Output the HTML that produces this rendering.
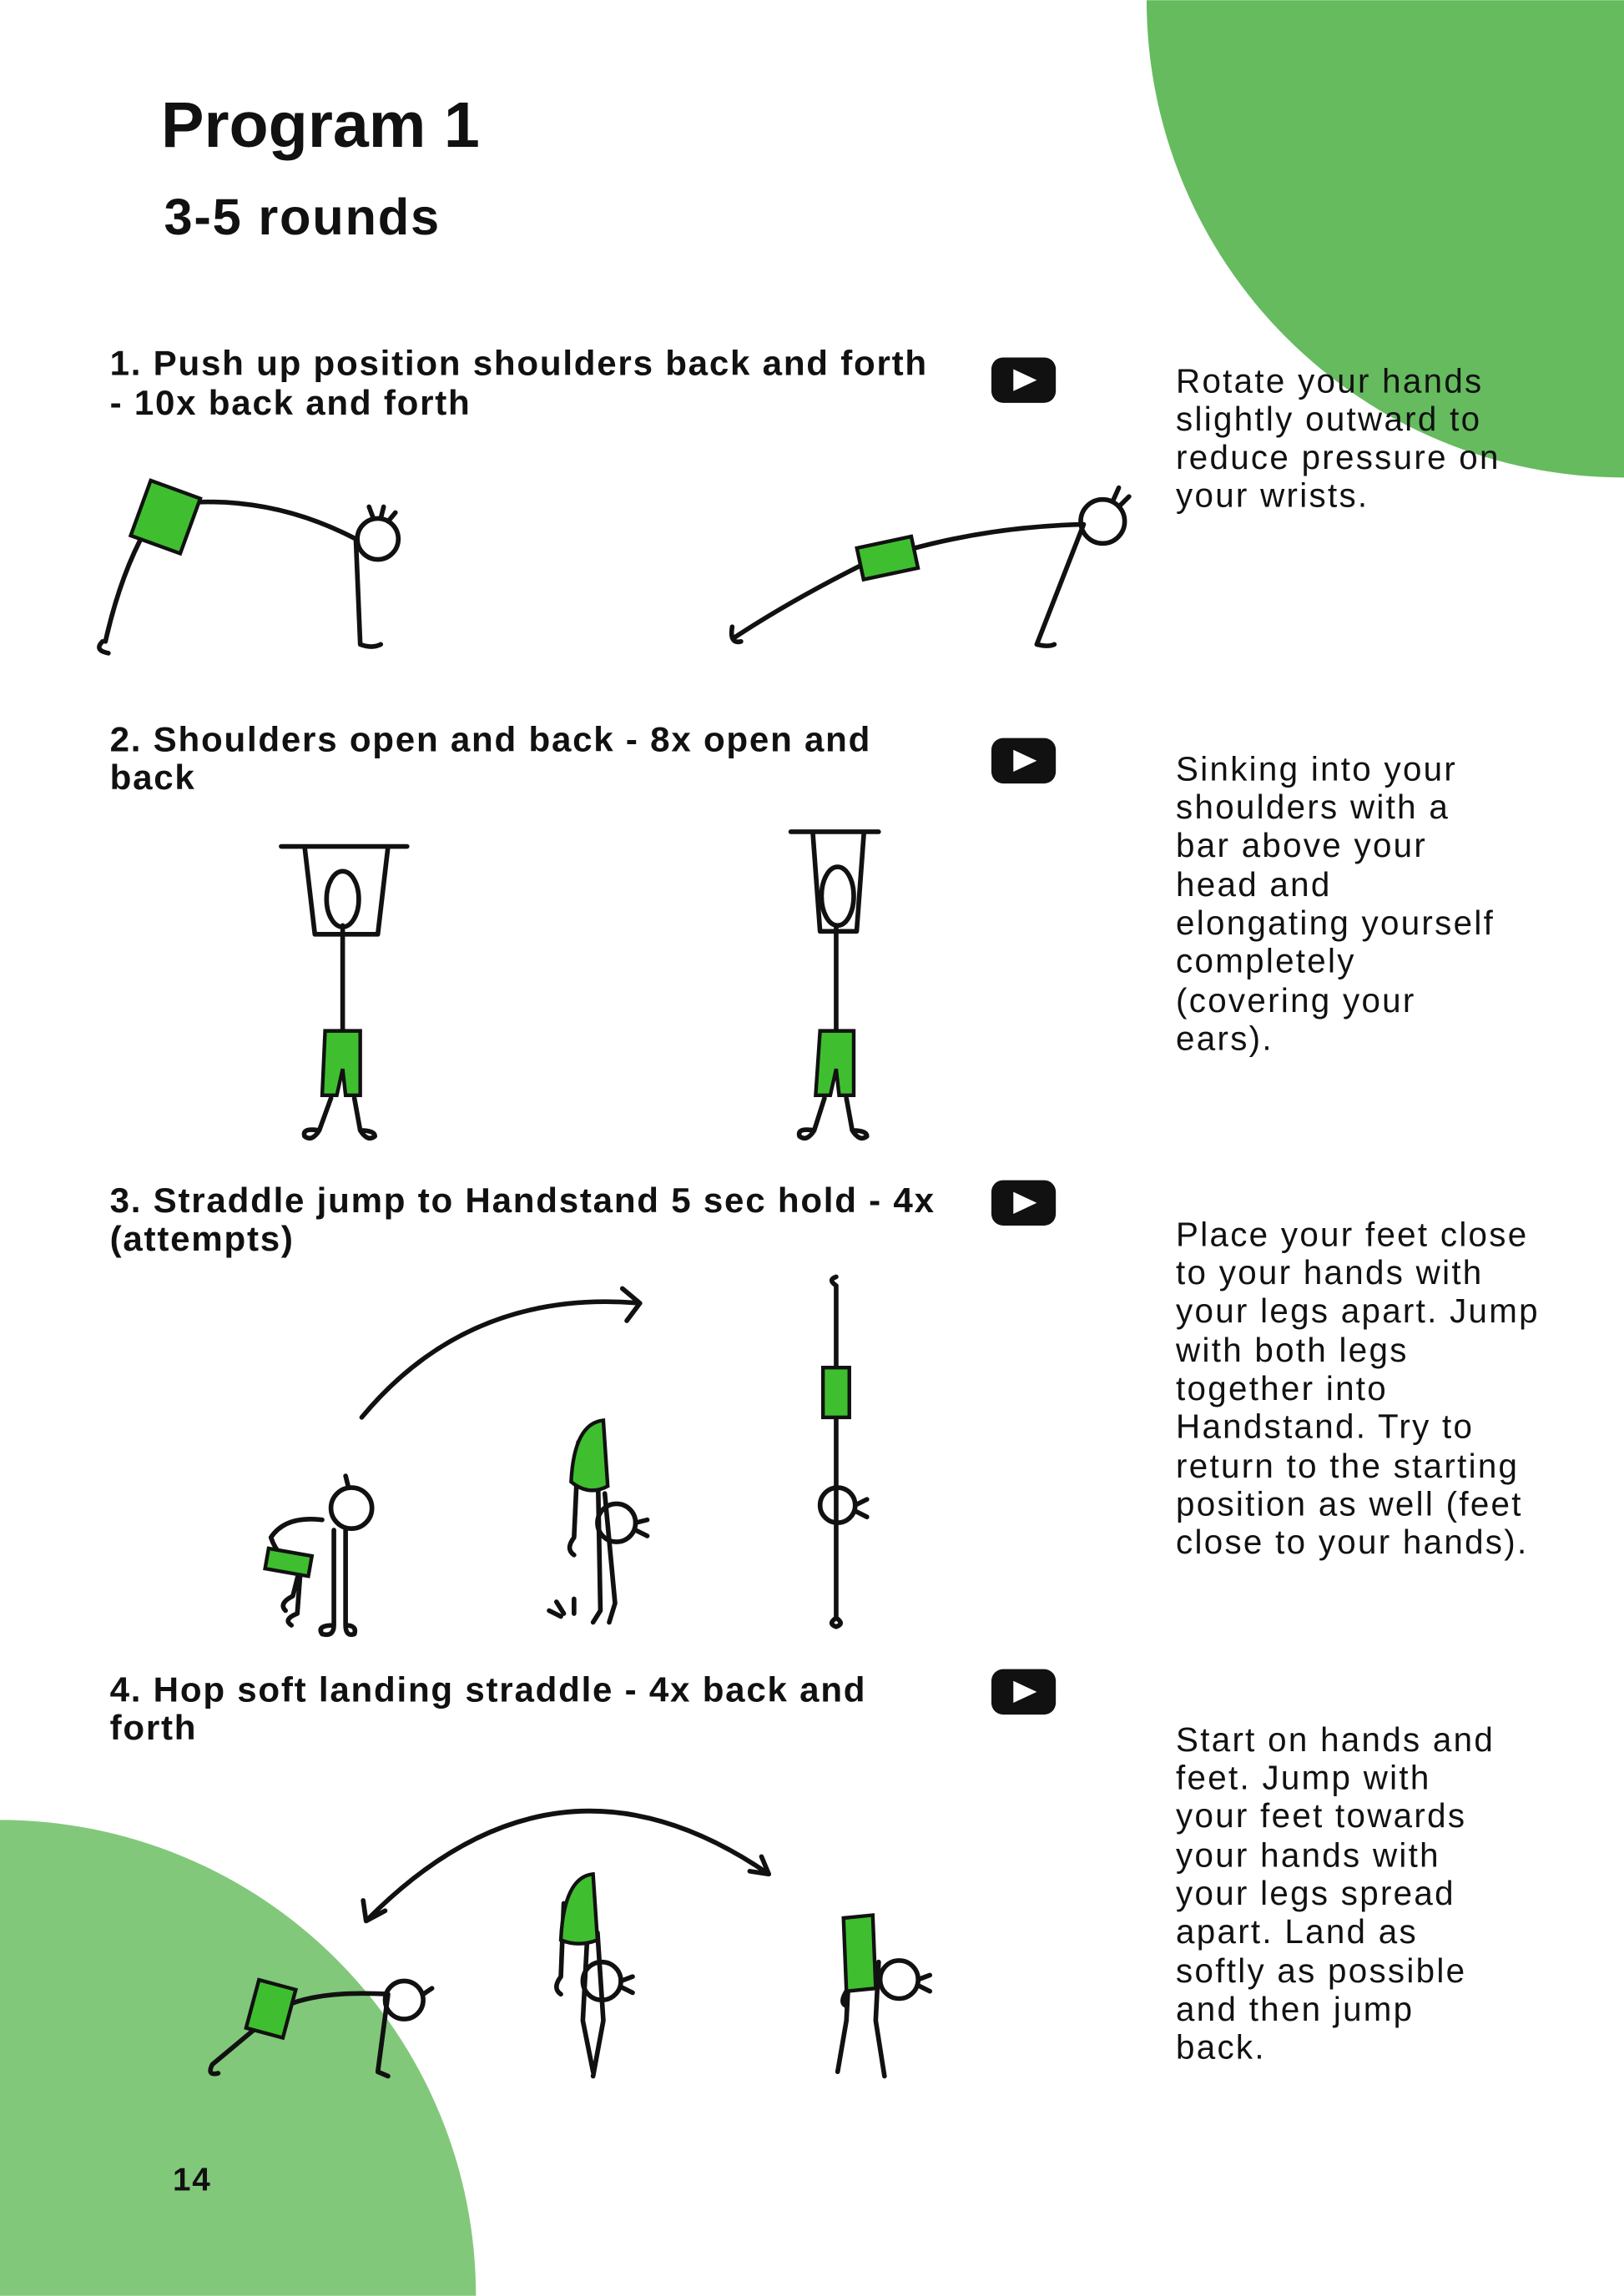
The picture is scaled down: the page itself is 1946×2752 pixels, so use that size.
<!DOCTYPE html>
<html><head><meta charset="utf-8"><style>
html,body{margin:0;padding:0;background:#fff;width:1946px;height:2752px;overflow:hidden;}
svg{display:block;}
.t{font-family:"Liberation Sans",sans-serif;font-weight:bold;fill:#111;}
.h{letter-spacing:1px;}
.r{font-family:"Liberation Sans",sans-serif;fill:#111;font-size:23px;letter-spacing:1.3px;}
.s{fill:none;stroke:#111;stroke-width:3.2;stroke-linecap:round;stroke-linejoin:round;}
.g{fill:#3fbf2f;stroke:#111;stroke-width:2.5;}
</style></head><body>
<svg width="1946" height="2752" viewBox="0 0 1109 1568" xmlns="http://www.w3.org/2000/svg" overflow="hidden">
<path d="M783 0 A326 326 0 0 0 1109 326 L1109 0Z" fill="#65bb5e"/>
<path d="M0 1243 A325 325 0 0 1 325 1568 L0 1568Z" fill="#82c87b"/>
<text class="t" x="110" y="100" font-size="44">Program 1</text>
<text class="t" x="112" y="160" font-size="35" letter-spacing="1">3-5 rounds</text>
<g class="t h" font-size="24">
<text x="75" y="256">1. Push up position shoulders back and forth</text>
<text x="75" y="283">- 10x back and forth</text>
<text x="75" y="513">2. Shoulders open and back - 8x open and</text>
<text x="75" y="539">back</text>
<text x="75" y="828">3. Straddle jump to Handstand 5 sec hold - 4x</text>
<text x="75" y="854">(attempts)</text>
<text x="75" y="1162">4. Hop soft landing straddle - 4x back and</text>
<text x="75" y="1188">forth</text>
</g>
<text class="t" x="118" y="1496" font-size="22" letter-spacing="1">14</text>
<g>
<rect x="677" y="244" width="44" height="31" rx="8" fill="#111"/><path d="M692 252 L708 259.5 L692 267Z" fill="#fff"/>
<rect x="677" y="504" width="44" height="31" rx="8" fill="#111"/><path d="M692 512 L708 519.5 L692 527Z" fill="#fff"/>
<rect x="677" y="806" width="44" height="31" rx="8" fill="#111"/><path d="M692 814 L708 821.5 L692 829Z" fill="#fff"/>
<rect x="677" y="1140" width="44" height="31" rx="8" fill="#111"/><path d="M692 1148 L708 1155.5 L692 1163Z" fill="#fff"/>
</g>
<g class="r">
<text x="803" y="268">Rotate your hands</text>
<text x="803" y="294">slightly outward to</text>
<text x="803" y="320">reduce pressure on</text>
<text x="803" y="346">your wrists.</text>
<text x="803" y="533">Sinking into your</text>
<text x="803" y="559">shoulders with a</text>
<text x="803" y="585">bar above your</text>
<text x="803" y="612">head and</text>
<text x="803" y="638">elongating yourself</text>
<text x="803" y="664">completely</text>
<text x="803" y="691">(covering your</text>
<text x="803" y="717">ears).</text>
<text x="803" y="851">Place your feet close</text>
<text x="803" y="877">to your hands with</text>
<text x="803" y="903">your legs apart. Jump</text>
<text x="803" y="930">with both legs</text>
<text x="803" y="956">together into</text>
<text x="803" y="982">Handstand. Try to</text>
<text x="803" y="1009">return to the starting</text>
<text x="803" y="1035">position as well (feet</text>
<text x="803" y="1061">close to your hands).</text>
<text x="803" y="1196">Start on hands and</text>
<text x="803" y="1222">feet. Jump with</text>
<text x="803" y="1248">your feet towards</text>
<text x="803" y="1275">your hands with</text>
<text x="803" y="1301">your legs spread</text>
<text x="803" y="1327">apart. Land as</text>
<text x="803" y="1354">softly as possible</text>
<text x="803" y="1380">and then jump</text>
<text x="803" y="1406">back.</text>
</g>
<path class="s" d="M72 438 Q85 380 110 345 Q180 335 243 368 L246 440 M70 438 q-6 6 4 8 M246 440 q8 3 14 0"/>
<rect class="g" x="95" y="333" width="36" height="40" transform="rotate(20 113 353)"/>
<circle class="s" cx="258" cy="368" r="14"/><path class="s" d="M255 354 l-3 -8 M260 354 l2 -8 M265 356 l5 -6"/>
<path class="s" d="M502 435 Q540 410 590 385 Q660 360 740 358 L708 440 M500 428 q-2 12 6 10 M708 440 q8 2 12 0"/>
<rect class="g" x="587" y="370" width="38" height="22" transform="rotate(-12 606 381)"/>
<circle class="s" cx="753" cy="356" r="15"/><path class="s" d="M760 342 l4 -9 M765 345 l6 -6"/>
<path class="s" d="M192 578 L278 578 M208 578 L215 638 L258 638 L265 578 M234 632 L234 705 M226 750 L218 772 M242 750 L246 772 M218 772 q-12 -2 -10 4 q5 4 10 -4 M246 772 q10 0 10 4 q-5 4 -10 -4"/>
<ellipse class="s" cx="234" cy="614" rx="11" ry="19"/>
<path class="g" d="M222 704 L246 704 L246 748 L236 748 L234 730 L230 748 L220 748Z"/>
<path class="s" d="M540 568 L600 568 M555 568 L560 636 L585 636 L590 568 M571 632 L571 705 M563 750 L556 772 M578 750 L582 772 M556 772 q-12 -2 -10 4 q5 4 10 -4 M582 772 q10 0 10 4 q-5 4 -10 -4"/>
<ellipse class="s" cx="572" cy="612" rx="11" ry="20"/>
<path class="g" d="M560 704 L583 704 L583 748 L573 748 L571 730 L567 748 L557 748Z"/>
<path class="s" d="M247 968 Q320 880 437 890 M425 880 L437 890 L428 902"/>
<path class="s" d="M228 1045 L228 1110 M236 1045 L236 1110 M228 1110 q-12 0 -8 6 q8 2 8 -6 M236 1110 q8 0 6 6 q-6 2 -6 -6 M220 1038 Q195 1035 185 1050 Q190 1065 205 1070 L200 1090 q-10 5 -5 10 M205 1075 L203 1102 q-10 4 -4 8"/>
<circle class="s" cx="240" cy="1030" r="14"/><path class="s" d="M238 1016 l-2 -8"/>
<rect class="g" x="182" y="1060" width="30" height="14" transform="rotate(10 197 1067)"/>
<path class="s" d="M395 985 L392 1050 M408 990 L410 1100 L405 1108 M392 1050 q-6 8 0 12 M413 1020 L420 1095 L416 1108 M375 1100 l8 4 M380 1094 l5 8 M392 1092 l0 10"/>
<path class="g" d="M390 1012 Q392 972 412 970 L415 1015 Q402 1022 390 1012Z"/>
<circle class="s" cx="421" cy="1040" r="13"/><path class="s" d="M434 1040 l8 -2 M434 1045 l8 4"/>
<path class="s" d="M571 878 L571 1105 M571 1105 q-6 4 0 6 q6 -2 0 -6 M571 878 q-6 -4 0 -6"/>
<rect class="g" x="562" y="934" width="18" height="34"/>
<circle class="s" cx="572" cy="1028" r="12"/><path class="s" d="M584 1028 l8 -4 M584 1032 l8 4"/>
<path class="s" d="M250 1312 Q380 1180 525 1280 M248 1298 L250 1312 L263 1305 M512 1278 L525 1280 L520 1268"/>
<path class="s" d="M145 1410 L175 1385 Q195 1358 265 1362 L258 1415 L265 1418 M145 1410 q-4 8 4 6"/>
<rect class="g" x="172" y="1355" width="26" height="34" transform="rotate(15 185 1372)"/>
<circle class="s" cx="276" cy="1366" r="13"/><path class="s" d="M289 1362 l6 -4"/>
<path class="s" d="M385 1300 L383 1350 M383 1350 q-6 8 0 12 M402 1305 L398 1380 L405 1415 M408 1320 L412 1380 L405 1418"/>
<path class="g" d="M383 1325 Q385 1282 405 1280 L408 1325 Q395 1330 383 1325Z"/>
<circle class="s" cx="411" cy="1353" r="13"/><path class="s" d="M424 1353 l8 -3 M424 1357 l8 4"/>
<path class="s" d="M580 1340 L578 1380 L572 1415 M600 1340 L598 1380 L604 1418 M578 1360 q-5 8 0 10"/>
<path class="g" d="M576 1310 L596 1308 L598 1358 L578 1360Z"/>
<circle class="s" cx="614" cy="1352" r="13"/><path class="s" d="M627 1352 l8 -3 M627 1356 l8 4"/>
</svg>
</body></html>
